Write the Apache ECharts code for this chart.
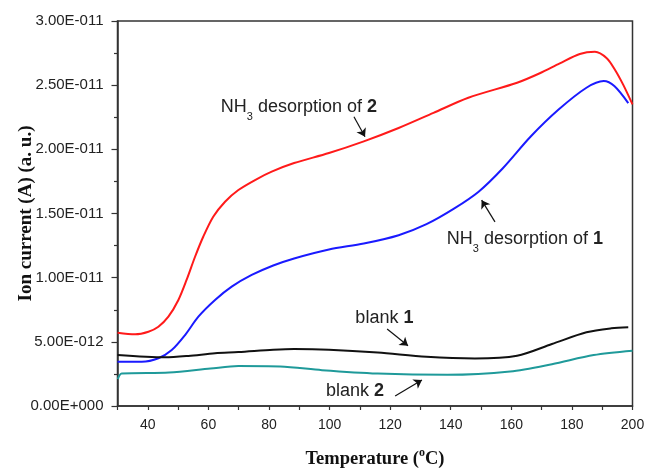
<!DOCTYPE html>
<html>
<head>
<meta charset="utf-8">
<script src="https://cdn.jsdelivr.net/npm/echarts@6/dist/echarts.min.js"></script>
<style>
  html, body { margin: 0; padding: 0; background: #fff; }
  #main { width: 645px; height: 471px; }
</style>
</head>
<body>
<div id="main"></div>
<script>
// values are in units of 1E-012 A, temperature in oC
var nh3Two = [[30, 5.71], [35.8, 5.59], [40.2, 5.79], [43.5, 6.18], [46.8, 6.96], [50.1, 8.26],
    [52.8, 9.82], [55.6, 11.63], [58.3, 13.19], [61.6, 14.75], [65.5, 15.92], [69.9, 16.83],
    [75.4, 17.61], [80.9, 18.26], [88.3, 18.93], [99.8, 19.71], [111.3, 20.62], [122.8, 21.66],
    [134.3, 22.84], [145.8, 24.02], [161.9, 25.19], [169.4, 25.93], [176, 26.7], [182.6, 27.43],
    [187.6, 27.6], [191.5, 27.1], [194.2, 26.2], [197, 25.0], [200, 23.5]];

var nh3One = [[30, 3.45], [38, 3.45], [43.5, 3.72], [47.9, 4.36], [52.3, 5.53], [56.7, 6.96],
    [62.2, 8.26], [67.7, 9.3], [74.3, 10.21], [81.4, 10.95], [88.3, 11.5], [99.8, 12.2],
    [111.3, 12.66], [122.8, 13.31], [132, 14.17], [141.2, 15.4], [149.2, 16.7], [157.2, 18.53],
    [166.4, 21.0], [175.6, 23.1], [184.8, 24.8], [190.5, 25.32], [194, 24.93], [198.6, 23.6]];

var blankOne = [[30, 3.97], [45.7, 3.79], [53.4, 3.9], [62.2, 4.11], [69.9, 4.2], [81.4, 4.38],
    [88.3, 4.44], [99.8, 4.39], [115.9, 4.17], [132, 3.84], [148, 3.71], [161.9, 3.92],
    [173.4, 4.83], [184.8, 5.74], [193, 6.05], [198.6, 6.13]];

var blankTwo = [[30.1, 2.09], [31.4, 2.53], [47, 2.61], [60.7, 2.92], [69.9, 3.11], [83.7, 3.08],
    [97.5, 2.79], [115.9, 2.53], [138.9, 2.43], [159.6, 2.69], [173.4, 3.26], [187.2, 3.97], [200, 4.31]];

var xLabels = [40, 60, 80, 100, 120, 140, 160, 180, 200];

function sciLabel(v) {
    if (v === 0) return '0.00E+000';
    var real = v * 1e-12;
    var e = Math.floor(Math.log10(real) + 1e-9);
    var m = real / Math.pow(10, e);
    var es = String(Math.abs(e));
    while (es.length < 3) es = '0' + es;
    return m.toFixed(2) + 'E' + (e < 0 ? '-' : '+') + es;
}

var myChart = echarts.init(document.getElementById('main'));

var textRich = {
    n: { fontSize: 18, color: '#222', fontFamily: 'Liberation Sans', lineHeight: 30 },
    s: { fontSize: 11, color: '#222', fontFamily: 'Liberation Sans', lineHeight: 11, verticalAlign: 'bottom' },
    b: { fontSize: 18, color: '#222', fontFamily: 'Liberation Sans', fontWeight: 'bold', lineHeight: 30 }
};

function note(coord, text) {
    return {
        coord: coord,
        symbol: 'circle',
        symbolSize: 1,
        itemStyle: { color: 'rgba(0,0,0,0)' },
        label: { show: true, position: 'inside', formatter: text, rich: textRich }
    };
}

function arrow(from, to) {
    return [{ coord: from }, { coord: to }];
}

function lineSeries(name, data, color, extra) {
    var s = {
        name: name,
        type: 'line',
        data: data,
        smooth: 0.3,
        showSymbol: false,
        symbol: 'none',
        lineStyle: { color: color, width: 2 },
        silent: true,
        z: 3
    };
    for (var k in extra) s[k] = extra[k];
    return s;
}

var arrowLine = {
    silent: true, symbol: ['none', 'arrow'], symbolSize: 8,
    lineStyle: { color: '#111', width: 1.2, type: 'solid' },
    label: { show: false }
};

function withArrow(from, to) {
    var m = {};
    for (var k in arrowLine) m[k] = arrowLine[k];
    m.data = [arrow(from, to)];
    return m;
}

var option = {
    backgroundColor: '#fff',
    animation: false,
    grid: {
        left: 117.5, right: 12.5, top: 21, bottom: 65,
        containLabel: false, outerBoundsMode: 'none',
        show: true, borderColor: '#333', borderWidth: 1.5, backgroundColor: 'transparent'
    },
    xAxis: {
        type: 'value',
        min: 30, max: 200, interval: 10,
        name: '{t|Temperature (}{sup|o}{t|C)}',
        nameLocation: 'middle',
        nameGap: 41,
        nameMoveOverlap: false,
        nameTextStyle: {
            rich: {
                t: { fontFamily: 'Liberation Serif', fontWeight: 'bold', fontSize: 18.5, color: '#111', lineHeight: 24 },
                sup: { fontFamily: 'Liberation Serif', fontWeight: 'bold', fontSize: 12, color: '#111', lineHeight: 10, verticalAlign: 'top' }
            }
        },
        axisLine: { lineStyle: { color: '#333', width: 1.5 } },
        axisTick: { show: true, length: 4, lineStyle: { color: '#333', width: 1.2 } },
        splitLine: { show: false },
        axisLabel: {
            margin: 12,
            fontSize: 14,
            fontFamily: 'Liberation Sans',
            color: '#222',
            formatter: function (v) { return xLabels.indexOf(v) > -1 ? String(v) : ''; }
        }
    },
    yAxis: {
        type: 'value',
        min: 0, max: 30, interval: 5,
        name: 'Ion current (A) (a. u.)',
        nameLocation: 'middle',
        nameGap: 82,
        nameMoveOverlap: false,
        nameTextStyle: { fontFamily: 'Liberation Serif', fontWeight: 'bold', fontSize: 19, color: '#111' },
        axisLine: { show: true, lineStyle: { color: '#333', width: 1.5 } },
        axisTick: { show: true, length: 6, lineStyle: { color: '#333', width: 1.2 } },
        minorTick: { show: true, splitNumber: 2, length: 3.5, lineStyle: { color: '#333', width: 1.2 } },
        splitLine: { show: false },
        axisLabel: {
            margin: 14,
            fontSize: 15,
            fontFamily: 'Liberation Sans',
            color: '#222',
            formatter: sciLabel
        }
    },
    series: [
        lineSeries('NH3 desorption of 2', nh3Two, '#ff1a1a', {
            markPoint: { silent: true, data: [note([89.9, 23.3], '{n|NH}{s|3}{n| desorption of }{b|2}')] },
            markLine: withArrow([108.05, 22.54], [111.7, 20.98])
        }),
        lineSeries('NH3 desorption of 1', nh3One, '#1a1aff', {
            markPoint: { silent: true, data: [note([164.5, 13.0], '{n|NH}{s|3}{n| desorption of }{b|1}')] },
            markLine: withArrow([154.6, 14.35], [150.2, 16.04])
        }),
        lineSeries('blank 1', blankOne, '#111111', {
            markPoint: { silent: true, data: [note([118.1, 6.86], '{n|blank }{b|1}')] },
            markLine: withArrow([119, 6.0], [125.9, 4.69])
        }),
        lineSeries('blank 2', blankTwo, '#1f9a9a', {
            markPoint: { silent: true, data: [note([108.4, 1.17], '{n|blank }{b|2}')] },
            markLine: withArrow([121.65, 0.78], [130.5, 2.03])
        })
    ]
};

myChart.setOption(option);
</script>
</body>
</html>
